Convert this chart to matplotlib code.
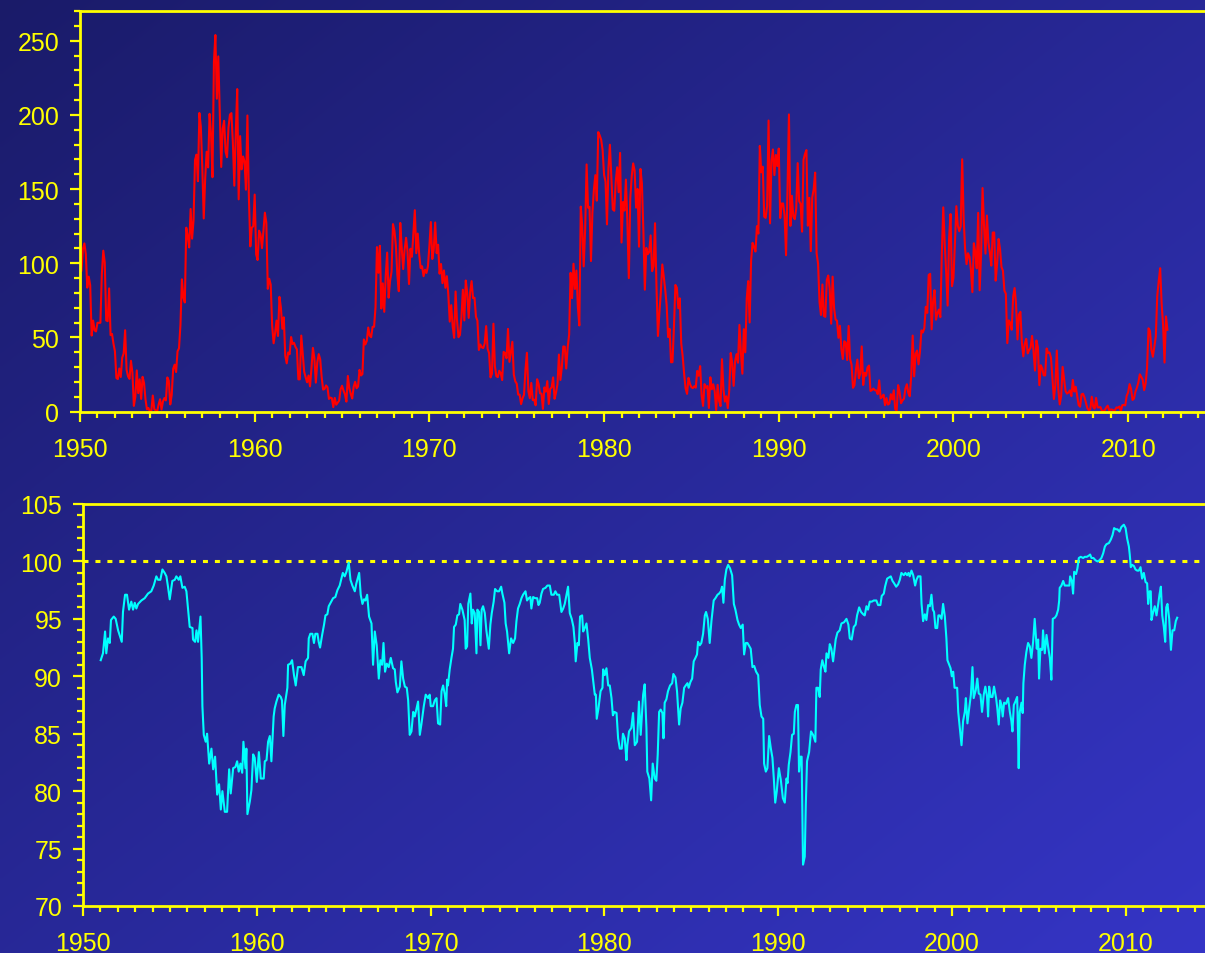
import numpy as np
import matplotlib
matplotlib.use("Agg")
import matplotlib.pyplot as plt
from matplotlib.ticker import MultipleLocator

plt.rcParams['font.family'] = ['Liberation Sans', 'DejaVu Sans']
plt.rcParams['lines.scale_dashes'] = False

YELLOW = '#ffff00'

# ---------------------------------------------------------------------------
# Monthly sunspot number, Jan 1950 onwards (one row per year)
# ---------------------------------------------------------------------------
sunspots = [
    101.6, 94.8, 109.7, 113.4, 106.2, 83.6, 91.0, 85.2, 51.3, 61.4, 54.8, 54.1,      # 1950
    59.9, 59.9, 59.9, 92.9, 108.5, 100.6, 61.5, 61.0, 83.1, 51.6, 52.4, 45.8,        # 1951
    40.7, 22.7, 22.0, 29.1, 23.4, 36.4, 39.3, 54.9, 28.2, 23.8, 22.1, 34.3,          # 1952
    26.5, 3.9, 10.0, 27.8, 12.5, 21.8, 8.6, 23.5, 19.3, 8.2, 1.6, 2.5,               # 1953
    0.2, 0.5, 10.9, 1.8, 0.8, 0.2, 4.8, 8.4, 1.5, 7.0, 9.2, 7.6,                     # 1954
    23.1, 20.8, 4.9, 11.3, 28.9, 31.7, 26.7, 40.7, 42.7, 58.5, 89.2, 76.9,           # 1955
    73.6, 124.0, 118.4, 110.7, 136.6, 116.6, 129.1, 169.6, 173.2, 155.3, 201.3, 192.1,  # 1956
    165.0, 130.2, 157.4, 175.2, 164.6, 200.7, 187.2, 158.0, 235.8, 253.8, 210.9, 239.4,  # 1957
    202.5, 164.9, 190.7, 196.0, 175.3, 171.5, 191.4, 200.2, 201.2, 181.5, 152.3, 187.6,  # 1958
    217.4, 143.1, 185.7, 163.3, 172.0, 168.7, 149.6, 199.6, 145.2, 111.4, 124.0, 125.0,  # 1959
    146.3, 106.0, 102.2, 122.0, 119.6, 110.2, 121.7, 134.1, 127.2, 82.8, 89.6, 85.6,  # 1960
    57.9, 46.1, 53.0, 61.4, 51.0, 77.4, 70.2, 55.9, 63.6, 37.7, 32.6, 39.9,          # 1961
    38.7, 50.3, 45.6, 46.4, 43.7, 42.0, 21.8, 21.8, 51.3, 39.5, 26.9, 23.2,          # 1962
    19.8, 24.4, 17.1, 29.3, 43.0, 35.9, 19.6, 33.2, 38.8, 35.3, 23.4, 14.9,          # 1963
    15.3, 17.7, 16.5, 8.6, 9.5, 9.1, 3.1, 9.3, 4.7, 6.1, 7.4, 15.1,                  # 1964
    17.5, 14.2, 11.7, 6.8, 24.1, 15.9, 11.9, 8.9, 16.8, 20.1, 15.8, 17.0,            # 1965
    28.2, 24.4, 25.3, 48.7, 45.3, 47.7, 56.7, 51.2, 50.2, 57.2, 57.2, 70.4,          # 1966
    110.9, 93.6, 111.8, 69.5, 86.5, 67.3, 91.5, 107.2, 76.8, 88.2, 94.3, 126.4,      # 1967
    121.8, 111.9, 92.2, 81.2, 127.2, 110.3, 96.1, 109.3, 117.2, 107.7, 86.0, 109.8,  # 1968
    104.4, 120.5, 135.8, 106.8, 120.0, 106.0, 96.8, 98.0, 91.3, 95.7, 93.5, 97.9,    # 1969
    111.5, 127.8, 102.9, 109.5, 127.5, 106.8, 112.5, 93.0, 99.5, 86.6, 95.2, 83.5,   # 1970
    91.3, 79.0, 60.7, 71.8, 57.5, 49.8, 81.0, 61.4, 50.2, 51.7, 63.2, 82.2,          # 1971
    61.5, 88.4, 80.1, 63.2, 80.5, 88.0, 76.5, 76.8, 64.0, 61.3, 41.6, 45.3,          # 1972
    43.4, 42.9, 46.0, 57.7, 42.4, 39.5, 23.1, 25.6, 59.3, 30.7, 23.9, 23.3,          # 1973
    27.6, 26.0, 21.3, 40.3, 39.5, 36.0, 55.8, 33.6, 40.2, 47.1, 25.0, 20.5,          # 1974
    18.9, 11.5, 11.5, 5.1, 9.0, 11.4, 28.2, 39.7, 13.9, 9.1, 19.4, 7.8,              # 1975
    8.1, 4.3, 21.9, 18.8, 12.4, 12.2, 1.9, 16.4, 13.5, 20.6, 5.2, 15.3,              # 1976
    16.4, 23.1, 8.7, 12.9, 18.6, 38.5, 21.4, 30.1, 44.0, 43.8, 29.1, 43.2,           # 1977
    51.9, 93.6, 76.5, 99.7, 82.7, 95.1, 70.4, 58.1, 138.2, 125.1, 97.9, 122.7,       # 1978
    166.6, 137.5, 138.0, 101.5, 134.4, 149.5, 159.4, 142.2, 188.4, 186.2, 183.3, 176.3,  # 1979
    159.6, 155.0, 126.2, 164.1, 179.9, 157.3, 136.3, 135.4, 155.0, 164.7, 147.9, 174.4,  # 1980
    114.0, 141.3, 135.5, 156.4, 127.5, 90.0, 143.8, 158.7, 167.3, 162.4, 137.5, 150.1,  # 1981
    111.2, 163.6, 153.8, 122.0, 82.2, 110.4, 106.1, 107.6, 118.8, 94.7, 98.1, 127.0,  # 1982
    84.3, 51.0, 66.5, 80.7, 99.2, 91.1, 82.2, 71.8, 50.3, 55.8, 33.3, 33.4,          # 1983
    57.0, 85.4, 83.5, 69.7, 76.4, 46.1, 37.4, 25.5, 15.7, 12.0, 22.8, 18.7,          # 1984
    16.5, 15.9, 17.2, 16.2, 27.5, 24.2, 30.7, 11.1, 3.9, 18.6, 16.2, 17.3,           # 1985
    2.5, 23.2, 15.1, 18.5, 13.7, 1.1, 18.1, 7.4, 3.8, 35.4, 15.2, 6.8,               # 1986
    10.4, 2.4, 14.7, 39.6, 33.0, 17.4, 33.9, 38.8, 33.0, 58.5, 39.8, 25.6,           # 1987
    55.6, 40.0, 76.2, 88.0, 60.1, 101.8, 113.8, 111.0, 107.9, 125.0, 120.0, 179.1,   # 1988
    161.3, 165.1, 131.4, 130.6, 138.5, 196.2, 126.9, 168.9, 176.7, 159.4, 173.0, 165.5,  # 1989
    177.3, 130.5, 140.3, 140.3, 132.2, 105.4, 149.4, 200.3, 125.2, 145.5, 131.4, 129.7,  # 1990
    136.9, 167.5, 141.9, 140.0, 121.3, 169.7, 173.7, 176.3, 125.3, 144.1, 108.2, 144.4,  # 1991
    150.0, 161.1, 106.7, 99.8, 73.8, 65.2, 85.7, 64.5, 63.9, 88.7, 91.8, 82.6,       # 1992
    59.3, 91.0, 69.8, 62.2, 61.3, 49.8, 57.9, 42.4, 35.5, 47.5, 46.5, 34.8,          # 1993
    57.8, 35.5, 31.7, 16.1, 17.8, 28.0, 35.1, 22.5, 25.7, 44.0, 18.0, 26.2,          # 1994
    24.2, 29.9, 31.1, 14.0, 14.5, 15.6, 14.5, 14.3, 11.8, 21.1, 9.0, 10.0,           # 1995
    11.5, 4.4, 9.2, 4.8, 5.5, 11.8, 8.2, 14.4, 1.6, 0.9, 17.9, 13.3,                 # 1996
    5.7, 7.6, 8.7, 15.5, 18.5, 12.7, 10.4, 24.4, 51.3, 23.8, 39.0, 41.2,             # 1997
    31.9, 40.3, 54.8, 53.4, 56.3, 70.7, 66.6, 92.2, 92.9, 55.5, 74.0, 81.9,          # 1998
    62.0, 66.3, 68.8, 63.7, 106.4, 137.7, 113.5, 93.7, 71.5, 116.7, 133.2, 84.6,     # 1999
    90.1, 112.9, 138.5, 125.5, 121.6, 124.9, 170.1, 130.5, 109.7, 99.4, 106.8, 104.4,  # 2000
    95.6, 80.6, 113.5, 107.7, 96.6, 134.0, 81.8, 106.4, 150.7, 125.5, 106.5, 132.2,  # 2001
    114.1, 107.4, 98.4, 120.7, 120.8, 88.3, 99.6, 116.4, 109.6, 97.5, 95.0, 81.6,    # 2002
    79.5, 46.2, 61.5, 60.0, 55.2, 77.4, 83.3, 72.7, 48.7, 65.5, 67.3, 46.5,          # 2003
    37.3, 45.8, 49.1, 39.3, 41.5, 43.2, 51.1, 40.9, 27.7, 48.0, 43.5, 17.9,          # 2004
    31.3, 29.2, 24.5, 24.4, 42.6, 39.6, 39.9, 36.4, 22.1, 8.5, 18.0, 41.2,           # 2005
    15.3, 4.9, 10.6, 30.2, 22.3, 13.9, 12.2, 12.9, 14.4, 10.5, 21.4, 13.6,           # 2006
    16.8, 10.7, 4.5, 3.4, 11.7, 12.1, 9.7, 6.0, 2.4, 0.9, 1.7, 10.1,                 # 2007
    3.3, 2.1, 9.3, 2.9, 2.9, 3.1, 0.5, 0.5, 1.1, 2.9, 4.1, 0.8,                      # 2008
    1.5, 1.4, 0.7, 1.2, 2.9, 2.6, 3.5, 0.0, 4.4, 4.6, 4.2, 10.6,                     # 2009
    13.1, 18.6, 15.4, 7.9, 8.8, 13.5, 16.1, 19.6, 25.2, 23.5, 21.6, 14.5,            # 2010
    19.0, 29.4, 56.2, 54.4, 41.6, 37.0, 43.9, 50.6, 78.0, 88.0, 96.7, 73.0,          # 2011
    58.3, 33.1, 64.2, 55.2,                                                          # 2012
]
sunspot_start_year = 1950

# ---------------------------------------------------------------------------
# Cosmic-ray count rate (% of reference level), (decimal year, value)
# ---------------------------------------------------------------------------
cosmic_1950s = [
    (1951.02, 91.4), (1951.15, 92.0), (1951.27, 93.9), (1951.34, 92.0), (1951.44, 93.3),
    (1951.54, 92.9), (1951.61, 94.9), (1951.77, 95.2), (1951.88, 95.0), (1952.02, 94.0),
    (1952.23, 93.0), (1952.30, 95.6), (1952.42, 97.1), (1952.53, 97.1), (1952.65, 95.8),
    (1952.78, 96.5), (1952.88, 95.8), (1952.98, 96.4), (1953.07, 95.9), (1953.17, 96.3),
    (1953.36, 96.6), (1953.55, 96.8), (1953.74, 97.2), (1953.93, 97.4), (1954.07, 97.9),
    (1954.22, 98.7), (1954.32, 98.4), (1954.45, 98.4), (1954.57, 99.3), (1954.70, 99.0),
    (1954.80, 98.7), (1954.89, 97.8), (1954.99, 96.7), (1955.14, 98.3), (1955.28, 98.4),
    (1955.37, 98.7), (1955.51, 98.4), (1955.60, 98.7), (1955.72, 97.7), (1955.85, 97.8),
    (1955.95, 97.4), (1956.05, 95.8), (1956.14, 94.3), (1956.30, 94.2), (1956.33, 93.2),
    (1956.45, 93.0), (1956.53, 94.0), (1956.62, 93.0), (1956.76, 95.2), (1956.83, 91.6),
    (1956.87, 87.4), (1956.95, 84.9), (1957.06, 84.3), (1957.14, 85.0), (1957.26, 82.4),
    (1957.39, 83.7), (1957.49, 81.9), (1957.60, 83.0), (1957.72, 79.7), (1957.83, 80.6),
    (1957.93, 78.4), (1958.02, 80.0), (1958.16, 78.2), (1958.29, 78.2), (1958.41, 81.9),
    (1958.50, 79.8), (1958.64, 82.0), (1958.77, 82.1), (1958.87, 82.6), (1958.96, 81.7),
    (1959.06, 82.4), (1959.16, 81.6), (1959.23, 84.3), (1959.35, 82.0), (1959.40, 83.7),
    (1959.46, 78.0), (1959.60, 79.1), (1959.69, 80.1), (1959.79, 83.2), (1959.88, 82.9),
    (1960.00, 80.8), (1960.12, 83.4), (1960.23, 81.1), (1960.40, 81.1), (1960.46, 82.6),
    (1960.56, 82.7), (1960.65, 84.3), (1960.75, 84.8), (1960.84, 82.6),
]
cosmic_1960s = [
    (1960.97, 86.5), (1961.03, 87.2), (1961.13, 87.8), (1961.26, 88.4), (1961.38, 88.2),
    (1961.45, 87.9), (1961.53, 84.8), (1961.61, 87.5), (1961.76, 89.0), (1961.80, 91.0),
    (1961.93, 91.1), (1962.03, 91.4), (1962.14, 90.1), (1962.24, 89.2), (1962.37, 90.8),
    (1962.57, 90.8), (1962.70, 90.1), (1962.81, 91.3), (1962.95, 91.6), (1962.99, 93.3),
    (1963.08, 93.7), (1963.20, 93.7), (1963.29, 92.9), (1963.37, 93.7), (1963.49, 93.7),
    (1963.56, 93.0), (1963.64, 92.5), (1963.76, 93.6), (1963.87, 94.5), (1963.95, 95.3),
    (1964.06, 95.4), (1964.14, 96.1), (1964.25, 96.4), (1964.39, 96.8), (1964.52, 96.9),
    (1964.64, 97.5), (1964.77, 97.9), (1964.87, 98.5), (1964.95, 99.0), (1965.06, 98.7),
    (1965.16, 99.1), (1965.29, 99.9), (1965.39, 98.4), (1965.50, 97.9), (1965.64, 97.4),
    (1965.73, 98.1), (1965.89, 99.0), (1965.98, 97.1), (1966.08, 96.3), (1966.17, 96.7),
    (1966.25, 96.6), (1966.35, 97.1), (1966.46, 95.2), (1966.60, 94.6), (1966.69, 91.0),
    (1966.79, 93.9), (1966.90, 92.7), (1967.02, 89.8), (1967.11, 91.4), (1967.21, 91.0),
    (1967.29, 92.9), (1967.38, 90.4), (1967.48, 91.1), (1967.59, 90.8), (1967.71, 91.6),
    (1967.84, 90.7), (1967.94, 90.6), (1968.00, 89.5), (1968.09, 88.6), (1968.23, 89.1),
    (1968.32, 91.3), (1968.42, 89.8), (1968.52, 89.1), (1968.63, 89.0), (1968.71, 87.9),
    (1968.80, 84.9), (1968.90, 85.2), (1969.00, 86.9), (1969.09, 86.5), (1969.19, 87.2),
    (1969.28, 87.8), (1969.38, 84.9), (1969.47, 85.8), (1969.61, 87.4), (1969.72, 88.4),
    (1969.86, 88.1), (1969.95, 88.4), (1970.01, 87.4), (1970.14, 87.4), (1970.24, 87.9),
    (1970.34, 88.1), (1970.43, 85.9), (1970.55, 85.8), (1970.63, 88.7), (1970.72, 89.2),
    (1970.82, 88.4), (1970.90, 87.4), (1970.95, 89.7),
]
cosmic_1970s = [
    (1971.00, 89.2), (1971.10, 90.6), (1971.20, 91.6), (1971.29, 92.4), (1971.35, 94.3),
    (1971.45, 94.5), (1971.54, 95.3), (1971.64, 95.4), (1971.71, 96.3), (1971.83, 95.8),
    (1971.96, 94.9), (1972.02, 92.4), (1972.10, 92.6), (1972.17, 96.3), (1972.29, 97.2),
    (1972.37, 94.6), (1972.44, 95.8), (1972.54, 95.5), (1972.64, 92.0), (1972.69, 95.8),
    (1972.79, 95.6), (1972.87, 92.7), (1972.94, 95.8), (1973.02, 96.1), (1973.12, 95.5),
    (1973.21, 94.0), (1973.35, 92.4), (1973.44, 94.5), (1973.52, 95.5), (1973.63, 96.5),
    (1973.71, 97.6), (1973.83, 97.4), (1973.94, 97.4), (1974.06, 97.8), (1974.13, 97.2),
    (1974.25, 96.4), (1974.32, 94.6), (1974.40, 93.9), (1974.52, 92.0), (1974.63, 93.3),
    (1974.75, 92.9), (1974.86, 93.3), (1974.94, 94.8), (1975.03, 95.9), (1975.13, 96.3),
    (1975.23, 96.8), (1975.32, 97.1), (1975.46, 97.4), (1975.55, 96.6), (1975.65, 96.8),
    (1975.74, 96.9), (1975.80, 95.9), (1975.90, 96.9), (1976.01, 96.8), (1976.13, 96.8),
    (1976.21, 96.2), (1976.28, 96.4), (1976.38, 97.2), (1976.47, 97.6), (1976.61, 97.7),
    (1976.72, 97.9), (1976.86, 97.9), (1976.95, 97.1), (1977.09, 97.1), (1977.18, 97.4),
    (1977.28, 97.1), (1977.40, 97.1), (1977.53, 95.6), (1977.63, 95.9), (1977.72, 96.3),
    (1977.82, 97.1), (1977.91, 97.8), (1978.01, 95.5), (1978.12, 95.0), (1978.22, 94.3),
    (1978.30, 92.9), (1978.35, 91.3), (1978.45, 92.9), (1978.53, 92.7), (1978.60, 95.2),
    (1978.72, 95.3), (1978.78, 93.9), (1978.87, 94.2), (1978.97, 94.6), (1979.07, 93.2),
    (1979.16, 91.6), (1979.28, 90.6), (1979.35, 89.7), (1979.45, 88.4), (1979.51, 88.4),
    (1979.56, 86.3), (1979.66, 87.2), (1979.78, 88.7), (1979.89, 89.0), (1979.93, 90.6),
    (1980.02, 90.1), (1980.12, 90.7), (1980.22, 89.2), (1980.31, 89.2), (1980.41, 88.1),
    (1980.49, 86.6), (1980.58, 86.9), (1980.70, 86.8), (1980.79, 84.6), (1980.89, 83.7),
    (1981.00, 83.7),
]
cosmic_1980s = [
    (1981.07, 85.0), (1981.17, 84.6), (1981.27, 82.7), (1981.32, 84.0), (1981.42, 85.2),
    (1981.55, 85.5), (1981.65, 86.8), (1981.75, 84.0), (1981.88, 84.3), (1981.99, 87.8),
    (1982.09, 84.9), (1982.23, 88.4), (1982.32, 89.3), (1982.42, 85.5), (1982.47, 81.7),
    (1982.59, 81.1), (1982.69, 79.2), (1982.78, 82.4), (1982.90, 81.1), (1982.99, 80.9),
    (1983.07, 83.2), (1983.15, 86.9), (1983.24, 87.1), (1983.34, 86.8), (1983.40, 84.6),
    (1983.47, 87.7), (1983.57, 88.0), (1983.66, 88.7), (1983.78, 89.2), (1983.90, 89.4),
    (1983.97, 90.2), (1984.09, 89.9), (1984.18, 88.7), (1984.30, 85.8), (1984.39, 87.2),
    (1984.49, 87.7), (1984.59, 89.0), (1984.68, 89.2), (1984.78, 89.4), (1984.85, 89.0),
    (1984.95, 89.5), (1985.05, 89.8), (1985.14, 91.3), (1985.24, 91.6), (1985.33, 91.9),
    (1985.39, 93.0), (1985.49, 92.7), (1985.58, 92.9), (1985.68, 93.7), (1985.78, 95.3),
    (1985.85, 95.6), (1985.95, 95.0), (1986.06, 92.9), (1986.16, 94.8), (1986.29, 96.6),
    (1986.39, 96.8), (1986.51, 97.1), (1986.60, 97.2), (1986.70, 97.4), (1986.77, 97.8),
    (1986.85, 96.4), (1986.93, 98.4), (1987.02, 99.3), (1987.12, 99.7), (1987.23, 99.4),
    (1987.35, 98.8), (1987.45, 96.3), (1987.54, 95.8), (1987.66, 94.9), (1987.75, 94.5),
    (1987.85, 94.2), (1987.96, 94.5), (1988.04, 91.9), (1988.14, 92.9), (1988.23, 92.9),
    (1988.31, 92.7), (1988.42, 92.4), (1988.52, 90.8), (1988.62, 90.9), (1988.73, 90.4),
    (1988.85, 90.1), (1988.94, 87.5), (1989.04, 86.5), (1989.14, 86.3), (1989.19, 82.4),
    (1989.29, 81.7), (1989.38, 82.0), (1989.48, 84.8), (1989.58, 83.7), (1989.67, 82.9),
    (1989.75, 81.1), (1989.83, 79.0), (1989.92, 80.0), (1990.04, 82.0), (1990.15, 81.0),
    (1990.27, 79.4), (1990.38, 79.0), (1990.48, 81.1), (1990.54, 80.7), (1990.61, 82.3),
    (1990.71, 83.4), (1990.80, 84.9), (1990.90, 85.0), (1990.96, 86.9),
]
cosmic_1990s = [
    (1991.05, 87.5), (1991.14, 87.5), (1991.20, 81.7), (1991.28, 83.0), (1991.35, 83.0),
    (1991.43, 73.6), (1991.53, 74.3), (1991.59, 78.8), (1991.66, 82.6), (1991.78, 83.4),
    (1991.89, 85.2), (1992.01, 84.9), (1992.14, 84.3), (1992.20, 89.0), (1992.30, 89.0),
    (1992.39, 88.2), (1992.45, 90.6), (1992.54, 91.4), (1992.64, 90.8), (1992.72, 90.4),
    (1992.78, 92.0), (1992.89, 91.6), (1992.97, 92.8), (1993.06, 92.4), (1993.16, 91.3),
    (1993.24, 92.3), (1993.31, 93.2), (1993.41, 93.8), (1993.54, 94.0), (1993.64, 94.6),
    (1993.79, 94.7), (1993.93, 95.0), (1994.04, 94.5), (1994.12, 93.3), (1994.23, 93.2),
    (1994.35, 94.3), (1994.46, 94.5), (1994.54, 95.3), (1994.66, 96.0), (1994.77, 95.6),
    (1994.89, 95.4), (1994.98, 95.3), (1995.08, 96.1), (1995.17, 95.8), (1995.27, 96.5),
    (1995.39, 96.5), (1995.50, 96.6), (1995.65, 96.6), (1995.75, 96.2), (1995.88, 96.2),
    (1995.96, 97.0), (1996.08, 97.2), (1996.15, 97.8), (1996.27, 98.5), (1996.38, 98.6),
    (1996.48, 98.7), (1996.58, 98.3), (1996.67, 98.1), (1996.79, 97.8), (1996.90, 98.0),
    (1997.00, 98.4), (1997.09, 99.0), (1997.23, 98.8), (1997.32, 99.0), (1997.42, 98.8),
    (1997.50, 99.0), (1997.57, 98.7), (1997.67, 99.2), (1997.77, 98.8), (1997.88, 97.9),
    (1997.96, 98.4), (1998.05, 98.7), (1998.19, 98.7), (1998.25, 96.3), (1998.34, 94.8),
    (1998.44, 95.4), (1998.53, 94.9), (1998.63, 96.2), (1998.73, 96.1), (1998.82, 97.1),
    (1998.90, 95.8), (1998.97, 95.6), (1999.05, 94.2), (1999.15, 94.2), (1999.22, 95.3),
    (1999.30, 95.3), (1999.40, 95.0), (1999.49, 96.3), (1999.59, 95.2), (1999.68, 93.3),
    (1999.74, 91.4), (1999.84, 91.0), (1999.92, 90.7), (1999.99, 90.0), (2000.07, 90.4),
    (2000.15, 89.0), (2000.22, 89.0), (2000.30, 89.0), (2000.36, 86.9), (2000.45, 85.5),
    (2000.55, 84.0), (2000.64, 86.1), (2000.74, 86.9), (2000.80, 88.1), (2000.89, 85.9),
    (2000.99, 87.2), (2001.09, 88.4), (2001.18, 90.8),
]
cosmic_2000s = [
    (2001.25, 88.1), (2001.37, 88.8), (2001.46, 89.8), (2001.54, 88.5), (2001.64, 88.4),
    (2001.73, 86.9), (2001.83, 88.4), (2001.92, 89.1), (2002.02, 88.2), (2002.08, 86.5),
    (2002.14, 89.1), (2002.23, 88.2), (2002.33, 88.2), (2002.42, 89.1), (2002.54, 88.1),
    (2002.61, 87.2), (2002.69, 85.8), (2002.77, 87.9), (2002.85, 87.5), (2002.92, 86.5),
    (2003.00, 87.7), (2003.11, 87.6), (2003.23, 88.1), (2003.33, 86.9), (2003.42, 86.1),
    (2003.48, 85.2), (2003.56, 87.5), (2003.65, 87.8), (2003.75, 88.2), (2003.80, 85.2),
    (2003.84, 82.0), (2003.90, 86.9), (2004.00, 87.7), (2004.07, 86.8), (2004.11, 89.4),
    (2004.19, 91.0), (2004.28, 92.1), (2004.38, 92.9), (2004.48, 92.6), (2004.57, 91.6),
    (2004.67, 93.0), (2004.76, 95.0), (2004.88, 92.4), (2004.96, 93.2), (2005.01, 89.8),
    (2005.09, 92.4), (2005.19, 92.3), (2005.24, 94.0), (2005.34, 92.0), (2005.44, 93.6),
    (2005.53, 92.6), (2005.63, 91.6), (2005.72, 89.7), (2005.80, 95.0), (2005.92, 95.1),
    (2006.01, 95.3), (2006.11, 95.8), (2006.17, 96.6), (2006.20, 97.7), (2006.30, 97.9),
    (2006.40, 98.3), (2006.49, 97.9), (2006.65, 97.9), (2006.76, 97.9), (2006.80, 98.7),
    (2006.90, 98.3), (2006.97, 97.2), (2007.03, 99.1), (2007.14, 98.9), (2007.22, 99.4),
    (2007.30, 100.3), (2007.41, 100.4), (2007.55, 100.3), (2007.64, 100.4), (2007.76, 100.4),
    (2007.87, 100.5), (2007.95, 100.6), (2008.03, 100.3), (2008.14, 100.3), (2008.26, 100.1),
    (2008.37, 100.0), (2008.49, 100.1), (2008.60, 100.3), (2008.70, 100.7), (2008.80, 101.3),
    (2008.89, 101.5), (2009.03, 101.6), (2009.14, 101.9), (2009.24, 102.3), (2009.33, 102.9),
    (2009.43, 102.8), (2009.52, 102.8), (2009.64, 102.6), (2009.75, 103.0), (2009.89, 103.2),
    (2009.99, 102.9), (2010.08, 102.0), (2010.18, 101.3), (2010.23, 100.6), (2010.29, 99.5),
    (2010.37, 99.7), (2010.47, 99.6), (2010.56, 99.3), (2010.66, 99.2), (2010.75, 99.2),
    (2010.85, 99.5), (2010.94, 98.5), (2011.04, 99.0), (2011.14, 98.2), (2011.23, 98.1),
    (2011.29, 96.3), (2011.37, 97.4), (2011.44, 97.4), (2011.48, 94.9), (2011.58, 95.6),
    (2011.67, 96.1), (2011.77, 95.3), (2011.87, 96.3), (2011.94, 97.1), (2012.02, 97.8),
    (2012.10, 95.3), (2012.19, 94.3), (2012.27, 93.0), (2012.33, 96.0), (2012.40, 96.3),
    (2012.50, 95.0), (2012.60, 92.3), (2012.69, 94.0), (2012.79, 94.0), (2012.88, 94.8),
    (2012.96, 95.1),
]
reference_level = 100

# ---------------------------------------------------------------------------
# Figure with a diagonal blue gradient behind both panels
# ---------------------------------------------------------------------------
fig = plt.figure(figsize=(12.05, 9.54), dpi=100)

bg = fig.add_axes([0, 0, 1, 1], zorder=-10)
gx, gy = np.meshgrid(np.linspace(0, 1, 300), np.linspace(0, 1, 240))
t = 0.5 * gx + 0.5 * gy
c_dark = np.array([26, 27, 105]) / 255.0
c_light = np.array([53, 53, 198]) / 255.0
bg.imshow(c_dark + t[..., None] * (c_light - c_dark), aspect='auto',
          extent=[0, 1, 0, 1], origin='upper', interpolation='bilinear')
bg.axis('off')


def style_axes(ax, ymajor, yminor):
    ax.set_facecolor('none')
    for side in ('left', 'top', 'bottom'):
        ax.spines[side].set_color(YELLOW)
        ax.spines[side].set_linewidth(2.0)
    ax.spines['right'].set_visible(False)
    ax.xaxis.set_major_locator(MultipleLocator(10))
    ax.xaxis.set_minor_locator(MultipleLocator(1))
    ax.yaxis.set_major_locator(MultipleLocator(ymajor))
    ax.yaxis.set_minor_locator(MultipleLocator(yminor))
    ax.tick_params(which='both', direction='out', colors=YELLOW, width=1.6,
                   top=False, right=False)
    ax.tick_params(which='major', length=7)
    ax.tick_params(which='minor', length=4.5)
    ax.tick_params(axis='x', which='major', labelsize=18, pad=11)
    ax.tick_params(axis='y', which='major', labelsize=18, pad=8)


# ===== Top panel: sunspot number =====
ax1 = fig.add_axes([80 / 1205, 1 - 412.7 / 954, 1125 / 1205, 400.7 / 954])
months = sunspot_start_year + np.arange(len(sunspots)) / 12.0
ax1.plot(months, sunspots, color='#ff0000', linewidth=1.5)
ax1.set_xlim(1950, 2014.4)
ax1.set_ylim(0, 270)
style_axes(ax1, 50, 10)

# ===== Bottom panel: cosmic rays =====
ax2 = fig.add_axes([83 / 1205, 1 - 907 / 954, 1122 / 1205, 402 / 954])
cosmic = cosmic_1950s + cosmic_1960s + cosmic_1970s + cosmic_1980s + cosmic_1990s + cosmic_2000s
cr_years = [p[0] for p in cosmic]
cr_vals = [p[1] for p in cosmic]
ax2.axhline(reference_level, color=YELLOW, linewidth=2.2, dashes=(3.6, 5.0))
ax2.plot(cr_years, cr_vals, color='#00ffff', linewidth=1.5)
ax2.set_xlim(1950, 2014.56)
ax2.set_ylim(70, 105)
style_axes(ax2, 5, 1)

fig.savefig('out.png', dpi=100)
